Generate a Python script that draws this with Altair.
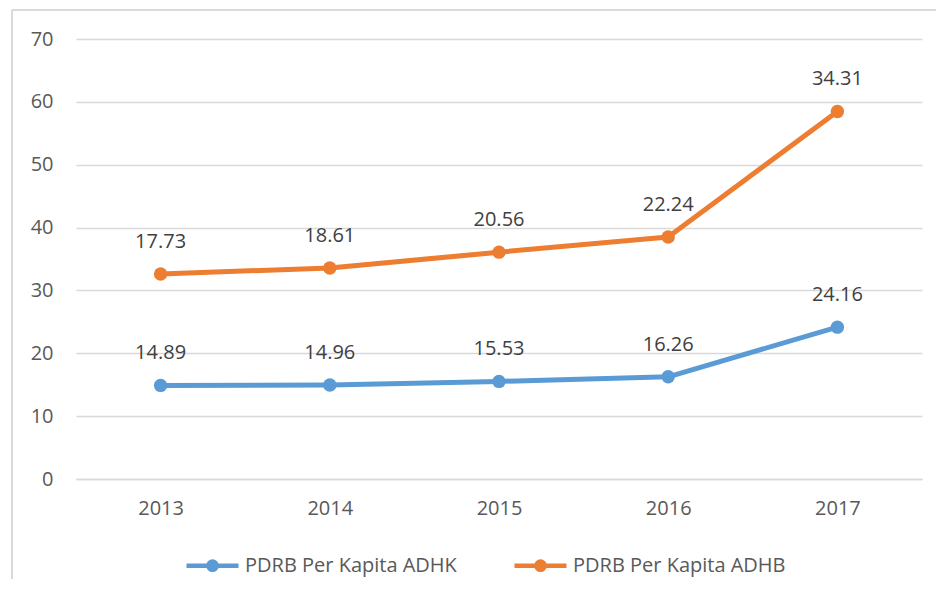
import altair as alt
import pandas as pd

years = ["2013", "2014", "2015", "2016", "2017"]
adhk = [14.89, 14.96, 15.53, 16.26, 24.16]
adhb = [17.73, 18.61, 20.56, 22.24, 34.31]
series_names = ["PDRB Per Kapita ADHK", "PDRB Per Kapita ADHB"]
colors = ["#5B9BD5", "#ED7D31"]

rows = []
for i, y in enumerate(years):
    # stacked line chart: second series is stacked on the first
    rows.append({"year": y, "series": series_names[0], "value": adhk[i], "pos": adhk[i]})
    rows.append({"year": y, "series": series_names[1], "value": adhb[i], "pos": adhk[i] + adhb[i]})
df = pd.DataFrame(rows)

FONT = "Open Sans"
FS = 20
W, H = 846, 440

x = alt.X("year:O", title=None,
          scale=alt.Scale(type="point", padding=0.5),
          axis=alt.Axis(labelAngle=0, ticks=False, domain=True, domainColor="#d9d9d9",
                        domainWidth=1.3, labelPadding=19, labelFontSize=FS,
                        labelColor="#595959", labelFont=FONT, grid=False))
y = alt.Y("pos:Q", title=None,
          scale=alt.Scale(domain=[0, 70], nice=False),
          axis=alt.Axis(values=[0, 10, 20, 30, 40, 50, 60, 70], ticks=False, domain=False,
                        gridColor="#d9d9d9", gridWidth=1.3, labelPadding=23,
                        labelFontSize=FS, labelColor="#595959", labelFont=FONT))
color = alt.Color("series:N", title=None,
                  scale=alt.Scale(domain=series_names, range=colors),
                  legend=alt.Legend(orient="none", direction="horizontal", legendX=108, legendY=498,
                                    symbolType="M-1,0L1,0M-0.16,0a0.16,0.16 0 1,0 0.32,0a0.16,0.16 0 1,0 -0.32,0Z",
                                    symbolSize=2704, symbolStrokeWidth=4.5,
                                    labelFontSize=FS, labelColor="#595959", labelFont=FONT,
                                    labelLimit=0, labelOffset=4, columnPadding=48, symbolOpacity=1))

base = alt.Chart(df).encode(x=x, y=y, color=color, detail="series:N")

lines = base.mark_line(strokeWidth=5, strokeCap="round", strokeJoin="round")
points = base.mark_point(filled=True, size=180, opacity=1, shape="circle")
labels = base.mark_text(dy=-32, fontSize=FS, font=FONT, color="#404040").encode(
    text=alt.Text("value:Q", format=".2f"), color=alt.value("#404040"))

border_left = alt.Chart(df).mark_rule(color="#d9d9d9", strokeWidth=2, clip=False).encode(
    x=alt.value(-64), y=alt.value(-29), y2=alt.value(H + 140))
border_top = alt.Chart(df).mark_rule(color="#d9d9d9", strokeWidth=2, clip=False).encode(
    x=alt.value(-64), x2=alt.value(W + 14), y=alt.value(-29))

chart = alt.layer(border_left, border_top, lines, points, labels).properties(
    width=W, height=H,
    autosize=alt.AutoSizeParams(type="none"),
    padding={"left": 68, "top": 31, "right": 14, "bottom": 100},
).configure(background="white").configure_view(stroke=None)

chart.save("out.html", embed_options={"renderer": "svg", "actions": False})
